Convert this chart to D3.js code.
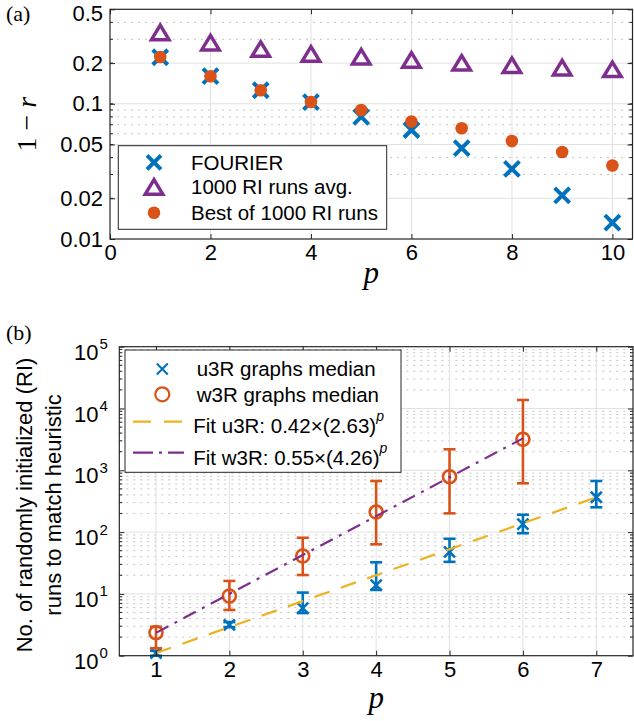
<!DOCTYPE html>
<html><head><meta charset="utf-8">
<script src="https://cdn.jsdelivr.net/npm/d3@7"></script>
<style>body{margin:0;background:#fff;} svg{display:block;}</style>
</head><body><svg id="c" width="634" height="721"></svg>
<script>
// ---------- data: panel (a) ----------
const pTop = [1,2,3,4,5,6,7,8,9,10];
const fourier = [0.221,0.160,0.126,0.103,0.080,0.064,0.047,0.033,0.021,0.0132];
const riAvg   = [0.337,0.283,0.254,0.234,0.223,0.211,0.201,0.193,0.185,0.180];
const riBest  = [0.222,0.160,0.126,0.103,0.090,0.074,0.066,0.053,0.044,0.035];
const topXTicks = [0,2,4,6,8,10];
const topYTicks = [0.01,0.02,0.05,0.1,0.2,0.5];
const topYTickLabels = ["0.01","0.02","0.05","0.1","0.2","0.5"];
const topLegend = ["FOURIER","1000 RI runs avg.","Best of 1000 RI runs"];

// ---------- data: panel (b) ----------
const pU = [1,2,3,4,5,6,7];
const u3rMed = [1.1,3.15,5.9,13.9,48,135,366];
const u3rLo  = [1.0,2.9,4.9,11.6,33,96,252];
const u3rHi  = [1.2,3.5,10.5,32.5,78,191,671];
const pW = [1,2,3,4,5,6];
const w3rMed = [2.36,9.25,41,211,788,3175];
const w3rLo  = [1.32,5.5,20.2,63.5,201,616];
const w3rHi  = [2.94,16.2,81,671,2188,13730];
const fitLabels = ["Fit u3R: 0.42\u00d7(2.63)","Fit w3R: 0.55\u00d7(4.26)"];
const fitCoef = [0.42,0.55];
const fitBase = [2.63,4.26];
const fitStart = [1,1];
const fitEnd = [7,6];
const botXTicks = [1,2,3,4,5,6,7];
const botYExp = [0,1,2,3,4,5];
const botLegend = ["u3R graphs median","w3R graphs median"];

// ---------- style ----------
const BLUE="#0072BD", ORANGE="#D95319", PURPLE="#7E2F8E", YELLOW="#EDB120";
const AX="#262626", GRID="#e1e1e1", MINOR="#c4c4c4";
const SANS="'Liberation Sans', Arial, Helvetica, sans-serif";
const SERIF="'Liberation Serif', 'Times New Roman', serif";

const svg = d3.select("#c");
svg.append("rect").attr("width",634).attr("height",721).attr("fill","#fff");

function xPath(s){ return `M${-s},${-s}L${s},${s}M${-s},${s}L${s},${-s}`; }
function triPath(w,h){ return `M0,${-h/2}L${w/2},${h/2}L${-w/2},${h/2}Z`; }
function minorVals(lo,hi){
  const out=[]; for(let e=Math.floor(Math.log10(lo)); e<=Math.ceil(Math.log10(hi)); e++)
    for(let m=1;m<=9;m++){ const v=m*Math.pow(10,e); if(v>lo*1.0001 && v<hi*0.9999) out.push(v);} return out;
}
function styleAxis(g,size){
  g.select(".domain").remove();
  g.selectAll(".tick line").attr("stroke",AX).attr("stroke-width",1);
  g.selectAll(".tick text").attr("fill","#000").style("font-family",SANS).style("font-size",size+"px");
}

// =================== PANEL (a) ===================
{
  const x0=110, x1=632.5, y0=239, y1=9.3;
  const x = d3.scaleLinear().domain([0,10.4]).range([x0,x1]);
  const y = d3.scaleLog().domain([0.01,0.5]).range([y0,y1]);
  const g = svg.append("g");
  const minors = minorVals(0.01,0.5);
  g.selectAll(".mg").data(minors.filter(v=>!topYTicks.includes(+v.toFixed(4)))).join("line")
    .attr("x1",x0).attr("x2",x1).attr("y1",d=>y(d)).attr("y2",d=>y(d))
    .attr("stroke",MINOR).attr("stroke-width",1).attr("stroke-dasharray","2,5");
  g.selectAll(".gy").data(topYTicks.slice(1,-1)).join("line")
    .attr("x1",x0).attr("x2",x1).attr("y1",d=>y(d)).attr("y2",d=>y(d))
    .attr("stroke",GRID).attr("stroke-width",1);
  g.selectAll(".gx").data(topXTicks.slice(1)).join("line")
    .attr("x1",d=>x(d)).attr("x2",d=>x(d)).attr("y1",y0).attr("y2",y1)
    .attr("stroke",GRID).attr("stroke-width",1);

  g.selectAll(".fx").data(pTop).join("path")
    .attr("d",xPath(7.5)).attr("transform",(d,i)=>`translate(${x(d)},${y(fourier[i])})`)
    .attr("stroke",BLUE).attr("stroke-width",4).attr("fill","none");
  g.selectAll(".tr").data(pTop).join("path")
    .attr("d",triPath(17.5,14.5)).attr("transform",(d,i)=>`translate(${x(d)},${y(riAvg[i])})`)
    .attr("stroke",PURPLE).attr("stroke-width",3.5).attr("fill","none").attr("stroke-linejoin","miter");
  g.selectAll(".bd").data(pTop).join("circle")
    .attr("cx",d=>x(d)).attr("cy",(d,i)=>y(riBest[i])).attr("r",6.3).attr("fill",ORANGE);

  const ax = g.append("g").attr("transform",`translate(0,${y0})`)
    .call(d3.axisBottom(x).tickValues(topXTicks).tickSize(-5).tickPadding(5).tickFormat(d3.format("d")));
  styleAxis(ax,22);
  const axT = g.append("g").attr("transform",`translate(0,${y1})`)
    .call(d3.axisTop(x).tickValues(topXTicks).tickSize(-5).tickFormat(""));
  styleAxis(axT,22);
  const ay = g.append("g").attr("transform",`translate(${x0},0)`)
    .call(d3.axisLeft(y).tickValues(topYTicks).tickSize(-5).tickPadding(7).tickFormat((d,i)=>topYTickLabels[i]));
  styleAxis(ay,22);
  ay.selectAll(".tick text").filter(d=>d===0.5).attr("dy","0.5em");
  const ayR = g.append("g").attr("transform",`translate(${x1},0)`)
    .call(d3.axisRight(y).tickValues(topYTicks).tickSize(-5).tickFormat(""));
  styleAxis(ayR,22);
  g.selectAll(".mtl").data(minors).join("line").attr("x1",x0).attr("x2",x0+3).attr("y1",d=>y(d)).attr("y2",d=>y(d)).attr("stroke",AX);
  g.selectAll(".mtr").data(minors).join("line").attr("x1",x1).attr("x2",x1-3).attr("y1",d=>y(d)).attr("y2",d=>y(d)).attr("stroke",AX);
  g.append("rect").attr("x",x0).attr("y",y1).attr("width",x1-x0).attr("height",y0-y1)
    .attr("fill","none").attr("stroke",AX).attr("stroke-width",1.2);

  g.append("text").attr("x",(x0+x1)/2).attr("y",283).attr("text-anchor","middle")
    .style("font-family",SERIF).style("font-style","italic").style("font-size","31px").text("p");
  const yl = g.append("text").attr("transform",`translate(36,${(y0+y1)/2}) rotate(-90)`).attr("text-anchor","middle")
    .style("font-family",SERIF).style("font-size","28px");
  yl.append("tspan").text("1 \u2212 ");
  yl.append("tspan").style("font-style","italic").text("r");
  svg.append("text").attr("x",6).attr("y",21).style("font-family",SERIF).style("font-size","22px").text("(a)");

  const L = g.append("g");
  L.append("rect").attr("x",118.3).attr("y",145.7).attr("width",268.4).attr("height",83.6)
    .attr("fill","#fff").attr("stroke",AX).attr("stroke-width",1);
  const rows=[162.3,186.9,212.7];
  L.append("path").attr("d",xPath(7)).attr("transform",`translate(154,${rows[0]})`).attr("stroke",BLUE).attr("stroke-width",4).attr("fill","none");
  L.append("path").attr("d",triPath(17.5,14.5)).attr("transform",`translate(154,${rows[1]})`).attr("stroke",PURPLE).attr("stroke-width",3.5).attr("fill","none");
  L.append("circle").attr("cx",154).attr("cy",rows[2]).attr("r",6.3).attr("fill",ORANGE);
  L.selectAll(".lt").data(topLegend).join("text").attr("x",191).attr("y",(d,i)=>rows[i]+7.3)
    .style("font-family",SANS).style("font-size","20.5px").text(d=>d);
}

// =================== PANEL (b) ===================
{
  const x0=119.3, x1=633, y0=655.7, y1=346.7;
  const x = d3.scaleLinear().domain([0.5,7.5]).range([x0,x1]);
  const y = d3.scaleLog().domain([1,1e5]).range([y0,y1]);
  const g = svg.append("g");
  const minors = minorVals(1,1e5).filter(v=>Math.abs(Math.log10(v)-Math.round(Math.log10(v)))>1e-6);
  g.selectAll(".mg").data(minors).join("line")
    .attr("x1",x0).attr("x2",x1).attr("y1",d=>y(d)).attr("y2",d=>y(d))
    .attr("stroke",MINOR).attr("stroke-width",1).attr("stroke-dasharray","2,5");
  g.selectAll(".gy").data(botYExp.slice(1,-1)).join("line")
    .attr("x1",x0).attr("x2",x1).attr("y1",d=>y(Math.pow(10,d))).attr("y2",d=>y(Math.pow(10,d)))
    .attr("stroke",GRID).attr("stroke-width",1);
  g.selectAll(".gx").data(botXTicks).join("line")
    .attr("x1",d=>x(d)).attr("x2",d=>x(d)).attr("y1",y0).attr("y2",y1)
    .attr("stroke",GRID).attr("stroke-width",1);

  const cap=6;
  function errbars(ps,lo,hi,col){
    const e = g.append("g").attr("stroke",col).attr("stroke-width",2.6).attr("fill","none");
    e.selectAll(".v").data(ps).join("line").attr("x1",d=>x(d)).attr("x2",d=>x(d))
      .attr("y1",(d,i)=>y(lo[i])).attr("y2",(d,i)=>y(hi[i]));
    e.selectAll(".t").data(ps).join("line").attr("x1",d=>x(d)-cap).attr("x2",d=>x(d)+cap)
      .attr("y1",(d,i)=>y(hi[i])).attr("y2",(d,i)=>y(hi[i]));
    e.selectAll(".b").data(ps).join("line").attr("x1",d=>x(d)-cap).attr("x2",d=>x(d)+cap)
      .attr("y1",(d,i)=>y(lo[i])).attr("y2",(d,i)=>y(lo[i]));
  }
  errbars(pU,u3rLo,u3rHi,BLUE);
  g.selectAll(".ux").data(pU).join("path").attr("d",xPath(5.5))
    .attr("transform",(d,i)=>`translate(${x(d)},${y(u3rMed[i])})`)
    .attr("stroke",BLUE).attr("stroke-width",2.6).attr("fill","none");
  errbars(pW,w3rLo,w3rHi,ORANGE);
  g.selectAll(".wc").data(pW).join("circle").attr("cx",d=>x(d)).attr("cy",(d,i)=>y(w3rMed[i]))
    .attr("r",6.5).attr("stroke",ORANGE).attr("stroke-width",2.6).attr("fill","none");

  const fitDash = ["16,12","14,7,3,7"];
  const fitCol = [YELLOW,PURPLE];
  const line = d3.line().x(d=>x(d[0])).y(d=>y(d[1]));
  fitCoef.forEach((c,k)=>{
    const pts = d3.range(fitStart[k],fitEnd[k]+1).map(p=>[p,c*Math.pow(fitBase[k],p)]);
    g.append("path").attr("d",line(pts)).attr("fill","none").attr("stroke",fitCol[k])
      .attr("stroke-width",2.2).attr("stroke-dasharray",fitDash[k]);
  });

  const ax = g.append("g").attr("transform",`translate(0,${y0})`)
    .call(d3.axisBottom(x).tickValues(botXTicks).tickSize(-5).tickPadding(6).tickFormat(d3.format("d")));
  styleAxis(ax,22);
  const axT = g.append("g").attr("transform",`translate(0,${y1})`)
    .call(d3.axisTop(x).tickValues(botXTicks).tickSize(-5).tickFormat(""));
  styleAxis(axT,22);
  const ay = g.append("g").attr("transform",`translate(${x0},0)`)
    .call(d3.axisLeft(y).tickValues(botYExp.map(e=>Math.pow(10,e))).tickSize(-5).tickFormat(""));
  styleAxis(ay,22);
  const ayR = g.append("g").attr("transform",`translate(${x1},0)`)
    .call(d3.axisRight(y).tickValues(botYExp.map(e=>Math.pow(10,e))).tickSize(-5).tickFormat(""));
  styleAxis(ayR,22);
  g.selectAll(".mtl").data(minors).join("line").attr("x1",x0).attr("x2",x0+3).attr("y1",d=>y(d)).attr("y2",d=>y(d)).attr("stroke",AX);
  g.selectAll(".mtr").data(minors).join("line").attr("x1",x1).attr("x2",x1-3).attr("y1",d=>y(d)).attr("y2",d=>y(d)).attr("stroke",AX);
  botYExp.forEach(e=>{
    const ty = y(Math.pow(10,e));
    g.append("text").attr("x",98.5).attr("y",ty+13).attr("text-anchor","end")
      .style("font-family",SANS).style("font-size","22px").text("10");
    g.append("text").attr("x",99.5).attr("y",ty+2.5)
      .style("font-family",SANS).style("font-size","15px").text(String(e));
  });
  g.append("rect").attr("x",x0).attr("y",y1).attr("width",x1-x0).attr("height",y0-y1)
    .attr("fill","none").attr("stroke",AX).attr("stroke-width",1.2);

  g.append("text").attr("x",(x0+x1)/2).attr("y",708).attr("text-anchor","middle")
    .style("font-family",SERIF).style("font-style","italic").style("font-size","31px").text("p");
  const yl = g.append("text").attr("transform",`translate(0,505) rotate(-90)`).attr("text-anchor","middle")
    .style("font-family",SANS).style("font-size","22px");
  yl.append("tspan").attr("x",0).attr("y",32).text("No. of randomly initialized (RI)");
  yl.append("tspan").attr("x",0).attr("y",61).text("runs to match heuristic");
  svg.append("text").attr("x",6).attr("y",340).style("font-family",SERIF).style("font-size","22px").text("(b)");

  const L = g.append("g");
  L.append("rect").attr("x",125).attr("y",350).attr("width",276).attr("height",122.3)
    .attr("fill","#fff").attr("stroke",AX).attr("stroke-width",1);
  L.append("path").attr("d",xPath(5.5)).attr("transform",`translate(162.3,369)`).attr("stroke",BLUE).attr("stroke-width",2).attr("fill","none");
  L.append("circle").attr("cx",162.3).attr("cy",394.3).attr("r",7).attr("stroke",ORANGE).attr("stroke-width",2.2).attr("fill","none");
  L.selectAll(".lt").data(botLegend).join("text").attr("x",196.7).attr("y",(d,i)=>[376.4,401.7][i])
    .style("font-family",SANS).style("font-size","20.5px").text(d=>d);
  const lineY=[421.7,452.7], textY=[433.3,465];
  fitLabels.forEach((t,k)=>{
    L.append("line").attr("x1",133).attr("x2",184).attr("y1",lineY[k]).attr("y2",lineY[k])
      .attr("stroke",fitCol[k]).attr("stroke-width",2.2).attr("stroke-dasharray",k===0?"18,13":"20,6,3,6");
    const tx = L.append("text").attr("x",193.3).attr("y",textY[k]).style("font-family",SANS).style("font-size","20.5px");
    tx.append("tspan").text(t);
    tx.append("tspan").attr("dy",-12).style("font-size","14px").style("font-style","italic").text("p");
  });
}
</script></body></html>
